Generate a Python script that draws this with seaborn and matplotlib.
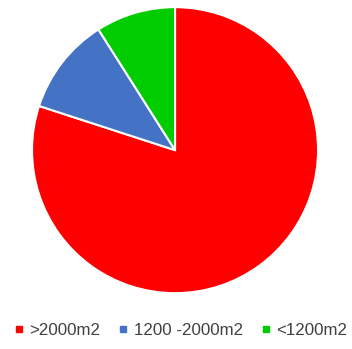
import matplotlib
matplotlib.use("Agg")
import matplotlib.pyplot as plt
import seaborn as sns
from matplotlib.lines import Line2D

sns.set_theme(style="white")
plt.rcParams["font.family"] = ["Liberation Sans", "DejaVu Sans"]

categorias = [">2000m2", "1200 -2000m2", "<1200m2"]
valores = [80, 11, 9]
colores = ["#FF0000", "#4472C4", "#00CC00"]

fig = plt.figure(figsize=(3.52, 3.49), dpi=100)
ax = fig.add_axes([0.091, 0.160, 0.8125, 0.8195])
ax.pie(valores, colors=colores, startangle=90, counterclock=False,
       radius=1.0, wedgeprops={"edgecolor": "white", "linewidth": 1.5})
ax.set_xlim(-1, 1)
ax.set_ylim(-1, 1)
ax.set_aspect("equal")
ax.axis("off")

handles = [Line2D([], [], marker="s", linestyle="none", markersize=5,
                  markerfacecolor=c, markeredgecolor=c) for c in colores]
fig.legend(handles, categorias, loc="center", bbox_to_anchor=(0.514, 0.052),
           ncol=3, frameon=False, fontsize=12.2, handlelength=0.5,
           handletextpad=0.35, columnspacing=1.1, borderaxespad=0,
           borderpad=0, labelcolor="#404040")

fig.savefig("out.png", dpi=100)
